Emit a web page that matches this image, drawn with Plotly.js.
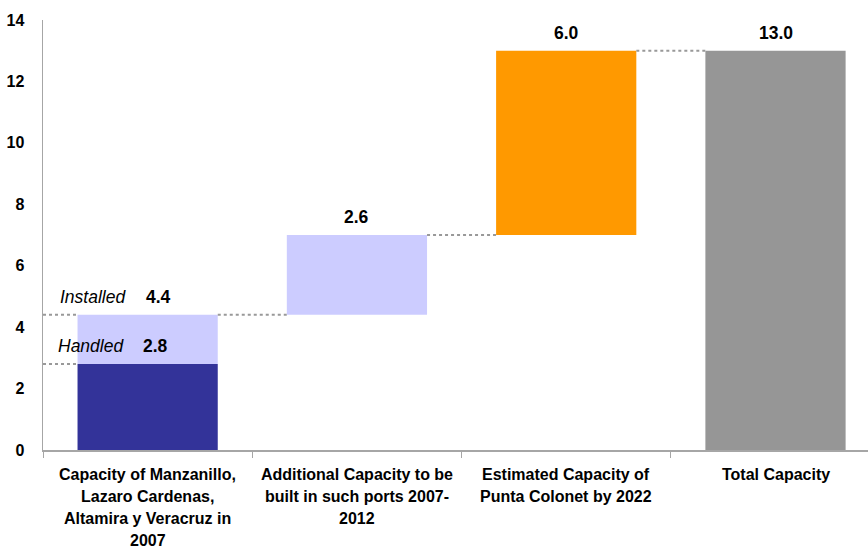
<!DOCTYPE html>
<html>
<head>
<meta charset="utf-8">
<script src="https://cdn.plot.ly/plotly-3.0.1.min.js"></script>
<style>
  html, body { margin: 0; padding: 0; background: #ffffff; }
  #chart { width: 868px; height: 548px; }
</style>
</head>
<body>
<div id="chart"></div>
<script>
// Port capacity waterfall (million TEU)
const categories = [
  "Capacity of Manzanillo, Lazaro Cardenas, Altamira y Veracruz in 2007",
  "Additional Capacity to be built in such ports 2007-2012",
  "Estimated Capacity of Punta Colonet by 2022",
  "Total Capacity"
];
const categoryLines = [
  ["Capacity of Manzanillo,", "Lazaro Cardenas,", "Altamira y Veracruz in", "2007"],
  ["Additional Capacity to be", "built in such ports 2007-", "2012"],
  ["Estimated Capacity of", "Punta Colonet by 2022"],
  ["Total Capacity"]
];
const handled2007 = 2.8;     // handled in 2007
const installed2007 = 4.4;   // installed in 2007
const additional = 2.6;      // added 2007-2012
const puntaColonet = 6.0;    // Punta Colonet by 2022
const totalCapacity = 13.0;

const colors = {
  handled: "#333399",
  installed: "#ccccff",
  colonet: "#ff9900",
  total: "#969696"
};

const barWidth = 0.67;
const FONT = "Liberation Sans, Arial, sans-serif";

// waterfall levels
const afterAdditional = installed2007 + additional;
const afterColonet = afterAdditional + puntaColonet;

const traces = [
  { x: [categories[0]], y: [handled2007], base: [0], color: colors.handled },
  { x: [categories[0]], y: [installed2007 - handled2007], base: [handled2007], color: colors.installed },
  { x: [categories[1]], y: [additional], base: [installed2007], color: colors.installed },
  { x: [categories[2]], y: [puntaColonet], base: [afterAdditional], color: colors.colonet },
  { x: [categories[3]], y: [totalCapacity], base: [0], color: colors.total }
].map(t => ({
  type: "bar",
  x: t.x, y: t.y, base: t.base,
  width: barWidth,
  marker: { color: t.color, line: { width: 0 } },
  hoverinfo: "skip",
  showlegend: false
}));

// dotted connectors between bar levels (category index positions)
const half = barWidth / 2;
const connectors = [
  [-0.5, -half, handled2007],
  [-0.5, -half, installed2007],
  [half, 1 - half, installed2007],
  [1 + half, 2 - half, afterAdditional],
  [2 + half, 3 - half, afterColonet]
];
const shapes = connectors.map(c => ({
  type: "line", xref: "x", yref: "y",
  x0: c[0], x1: c[1], y0: c[2], y1: c[2],
  line: { color: "#999999", width: 2, dash: "dot" }
}));

const annotations = [];
// value labels
const valueFont = { family: FONT, size: 17.5, color: "#000000", weight: "bold" };
const italicFont = { family: FONT, size: 17.5, color: "#000000", style: "italic" };
function label(x, y, text, font, xshift) {
  annotations.push({
    x: x, y: y, xref: "x", yref: "y", text: text, showarrow: false,
    xanchor: "center", yanchor: "middle", yshift: 18, xshift: xshift || 0, font: font
  });
}
label(categories[0], installed2007, installed2007.toFixed(1), valueFont, 11);
label(categories[0], handled2007, handled2007.toFixed(1), valueFont, 8);
label(categories[0], installed2007, "Installed", italicFont, -55);
label(categories[0], handled2007, "Handled", italicFont, -57);
label(categories[1], afterAdditional, additional.toFixed(1), valueFont, 0);
label(categories[2], afterColonet, puntaColonet.toFixed(1), valueFont, 0);
label(categories[3], totalCapacity, totalCapacity.toFixed(1), valueFont, 0);

// category labels, one annotation per line
categoryLines.forEach((lines, i) => {
  lines.forEach((ln, j) => {
    annotations.push({
      x: categories[i], y: 0, xref: "x", yref: "paper", text: ln, showarrow: false,
      xanchor: "center", yanchor: "middle", yshift: -24 - j * 22,
      font: { family: FONT, size: 16, color: "#000000", weight: "bold" }
    });
  });
});

const layout = {
  width: 868, height: 548,
  margin: { l: 43, r: 0, t: 20, b: 98 },
  paper_bgcolor: "#ffffff", plot_bgcolor: "#ffffff",
  barmode: "overlay",
  xaxis: {
    type: "category",
    categoryarray: categories,
    range: [-0.5, 3.442],
    showticklabels: false,
    tickson: "boundaries",
    ticks: "outside", ticklen: 6, tickcolor: "#a6a6a6", tickwidth: 1,
    showline: true, linecolor: "#a6a6a6", linewidth: 1.5,
    showgrid: false, zeroline: false, fixedrange: true
  },
  yaxis: {
    range: [0, 14], dtick: 2, tick0: 0,
    ticks: "", ticklabelstandoff: 14,
    tickfont: { family: FONT, size: 16, color: "#000000", weight: "bold" },
    showline: true, linecolor: "#a6a6a6", linewidth: 1.5,
    showgrid: false, zeroline: false, fixedrange: true
  },
  shapes: shapes,
  annotations: annotations
};

Plotly.newPlot("chart", traces, layout, { displayModeBar: false, staticPlot: true });
</script>
</body>
</html>
